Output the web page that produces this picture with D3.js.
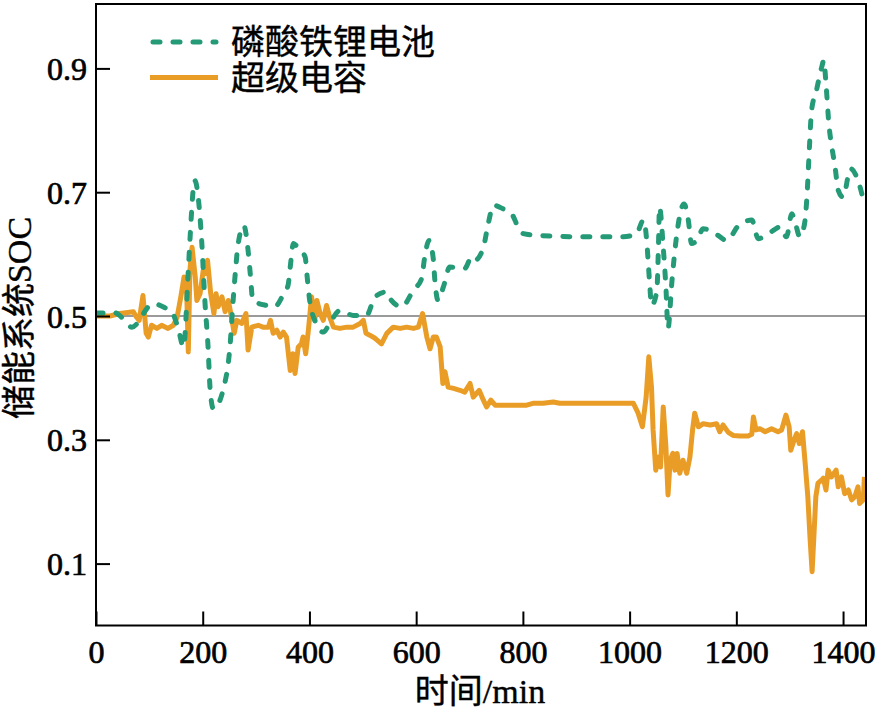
<!DOCTYPE html>
<html><head><meta charset="utf-8">
<script src="https://cdn.jsdelivr.net/npm/d3@7/dist/d3.min.js"></script>
<style>
html,body{margin:0;padding:0;background:#fff;}
svg text{font-family:"Liberation Serif","Times New Roman","Noto Sans CJK SC",serif;fill:#000;}
</style></head>
<body>
<svg id="chart" width="879" height="710"></svg>
<script>
// ---- data ----
const xTicks = [0, 200, 400, 600, 800, 1000, 1200, 1400];
const yTicks = [0.1, 0.3, 0.5, 0.7, 0.9];
const seriesNames = ["磷酸铁锂电池", "超级电容"];
const xTitle = "时间/min";
const yTitle = "储能系统SOC";

// LFP battery SOC
const lfpTime = [0,36,48,67,107,132,142,154,164,173,176,185,198,204,210,214,220,245,251,257,262,266,277,285,289,294,320,335,350,360,364,370,377,392,396,400,410,426,438,457,482,507,523,545,551,573,595,610,616,624,632,635,641,651,663,691,704,710,726,735,745,763,779,791,801,832,907,988,1013,1026,1032,1035,1038,1041,1051,1054,1056,1063,1068,1072,1079,1087,1102,1110,1116,1126,1138,1166,1182,1204,1229,1241,1269,1282,1294,1304,1310,1319,1325,1330,1333,1337,1341,1350,1360,1364,1368,1374,1379,1385,1391,1400,1414,1428,1440];
const lfpSoc = [0.505,0.505,0.498,0.482,0.52,0.512,0.507,0.48,0.45,0.574,0.622,0.719,0.622,0.525,0.45,0.38,0.35,0.407,0.45,0.525,0.579,0.614,0.646,0.606,0.569,0.525,0.517,0.515,0.533,0.55,0.579,0.617,0.612,0.595,0.561,0.528,0.493,0.474,0.488,0.509,0.501,0.501,0.531,0.539,0.528,0.515,0.542,0.56,0.595,0.622,0.593,0.558,0.525,0.547,0.579,0.577,0.595,0.59,0.611,0.649,0.679,0.673,0.665,0.644,0.633,0.63,0.628,0.628,0.633,0.655,0.622,0.585,0.547,0.517,0.54,0.611,0.676,0.611,0.547,0.48,0.553,0.622,0.681,0.655,0.617,0.622,0.641,0.63,0.622,0.646,0.655,0.625,0.638,0.644,0.628,0.665,0.652,0.628,0.638,0.665,0.703,0.773,0.832,0.864,0.902,0.913,0.875,0.805,0.773,0.741,0.703,0.692,0.738,0.719,0.68];

// Supercapacitor SOC
const scTime = [0,26,45,70,76,81,88,94,98,104,114,123,135,145,152,159,165,170,173,176,180,186,189,195,201,206,209,215,221,225,229,236,242,248,254,259,264,273,281,285,292,304,313,323,327,332,339,345,351,357,364,369,373,379,385,388,393,398,404,410,414,420,426,432,438,445,457,470,482,495,501,506,513,523,535,545,557,570,582,595,604,612,620,626,632,638,645,650,654,660,670,682,691,701,707,718,726,732,740,748,763,782,807,819,838,857,869,1007,1016,1024,1031,1036,1041,1044,1049,1054,1058,1063,1068,1072,1076,1081,1085,1089,1094,1100,1107,1113,1118,1122,1129,1138,1151,1163,1169,1175,1185,1194,1207,1222,1229,1232,1237,1244,1254,1266,1278,1285,1293,1299,1302,1308,1313,1318,1324,1329,1334,1338,1342,1345,1349,1353,1360,1363,1368,1372,1378,1387,1391,1397,1403,1410,1416,1422,1428,1431,1438,1440];
const scSoc = [0.50,0.50,0.504,0.507,0.498,0.493,0.533,0.472,0.466,0.485,0.48,0.485,0.48,0.485,0.498,0.531,0.563,0.536,0.442,0.574,0.611,0.563,0.525,0.536,0.574,0.569,0.59,0.536,0.504,0.536,0.515,0.531,0.507,0.525,0.498,0.472,0.493,0.488,0.504,0.445,0.482,0.485,0.482,0.482,0.493,0.472,0.477,0.466,0.474,0.466,0.412,0.439,0.407,0.45,0.455,0.466,0.439,0.477,0.531,0.493,0.525,0.504,0.493,0.517,0.498,0.482,0.48,0.482,0.482,0.488,0.493,0.472,0.469,0.464,0.455,0.472,0.482,0.48,0.482,0.48,0.482,0.504,0.466,0.447,0.466,0.466,0.45,0.391,0.41,0.385,0.383,0.38,0.377,0.391,0.369,0.38,0.364,0.353,0.364,0.356,0.356,0.356,0.356,0.359,0.359,0.361,0.359,0.359,0.343,0.321,0.369,0.434,0.385,0.316,0.251,0.272,0.256,0.353,0.289,0.211,0.267,0.278,0.251,0.278,0.246,0.267,0.246,0.272,0.316,0.343,0.321,0.326,0.324,0.326,0.313,0.324,0.312,0.307,0.306,0.306,0.309,0.337,0.316,0.318,0.313,0.318,0.313,0.316,0.34,0.321,0.283,0.299,0.31,0.294,0.313,0.262,0.208,0.143,0.087,0.138,0.208,0.23,0.235,0.238,0.219,0.251,0.24,0.251,0.224,0.24,0.213,0.219,0.203,0.208,0.224,0.197,0.203,0.24];

const refLine = 0.5;

// ---- drawing ----
const colors = ["#259a77", "#e99d27"];
const svg = d3.select("#chart");
const L = 96, R = 866, T = 4, B = 625.5;
const x = d3.scaleLinear().domain([0, 1443]).range([L, R]);
const y = d3.scaleLinear().domain([0, 1]).range([B, 6.5]);

svg.append("defs").append("clipPath").attr("id", "clip")
  .append("rect").attr("x", L).attr("y", T).attr("width", R - L).attr("height", B - T);

// reference line
svg.append("line").attr("x1", L).attr("x2", R).attr("y1", y(refLine)).attr("y2", y(refLine))
  .attr("stroke", "#9a9a9a").attr("stroke-width", 2);

const g = svg.append("g").attr("clip-path", "url(#clip)");
const lfpData = lfpTime.map((t, i) => [t, lfpSoc[i]]);
const scData = scTime.map((t, i) => [t, scSoc[i]]);

g.append("path").datum(scData)
  .attr("d", d3.line().x(d => x(d[0])).y(d => y(d[1])).curve(d3.curveLinear))
  .attr("fill", "none").attr("stroke", colors[1]).attr("stroke-width", 5)
  .attr("stroke-linejoin", "round");

g.append("path").datum(lfpData)
  .attr("d", d3.line().x(d => x(d[0])).y(d => y(d[1])).curve(d3.curveMonotoneX))
  .attr("fill", "none").attr("stroke", colors[0]).attr("stroke-width", 5)
  .attr("stroke-dasharray", "7,13").attr("stroke-linecap", "round");

// axes
const xAxis = d3.axisBottom(x).tickValues(xTicks).tickSize(-14).tickPadding(14).tickFormat(d3.format("d"));
const yAxis = d3.axisLeft(y).tickValues(yTicks).tickSize(-14).tickPadding(8).tickFormat(d3.format(".1f"));

const gx = svg.append("g").attr("transform", `translate(0,${B})`).call(xAxis);
const gy = svg.append("g").attr("transform", `translate(${L},0)`).call(yAxis);
[gx, gy].forEach(a => {
  a.select(".domain").remove();
  a.selectAll(".tick line").attr("stroke", "#000").attr("stroke-width", 2);
  a.selectAll(".tick text").attr("font-size", 32).attr("fill", "#000")
    .attr("stroke", "#000").attr("stroke-width", 0.7)
    .attr("font-family", "Liberation Serif, Times New Roman, serif");
});
gx.selectAll(".tick text").attr("dy", null).attr("y", 37.5).attr("dominant-baseline", "alphabetic");
gy.selectAll(".tick text").attr("dy", null).attr("y", 11).attr("x", -9);

// frame
svg.append("rect").attr("x", L).attr("y", T).attr("width", R - L).attr("height", B - T)
  .attr("fill", "none").attr("stroke", "#000").attr("stroke-width", 2);

// titles
svg.append("text").attr("x", 480).attr("y", 703).attr("text-anchor", "middle")
  .attr("font-size", 34).attr("stroke", "#000").attr("stroke-width", 0.4).text(xTitle);
svg.append("text").attr("transform", "translate(31,318) rotate(-90)").attr("text-anchor", "middle")
  .attr("font-size", 34).attr("stroke", "#000").attr("stroke-width", 0.4).text(yTitle);

// legend
const leg = svg.append("g");
const legY = [42, 77.5];
seriesNames.forEach((name, i) => {
  const ln = leg.append("line").attr("x1", 153).attr("x2", 216).attr("y1", legY[i]).attr("y2", legY[i])
    .attr("stroke", colors[i]).attr("stroke-width", 5);
  if (i === 0) ln.attr("stroke-dasharray", "7,13").attr("stroke-linecap", "round");
  else ln.attr("x1", 150).attr("x2", 218);
  leg.append("text").attr("x", 231).attr("y", legY[i] + 12).attr("font-size", 34)
    .attr("stroke", "#000").attr("stroke-width", 0.4).text(name);
});
</script>
</body></html>
